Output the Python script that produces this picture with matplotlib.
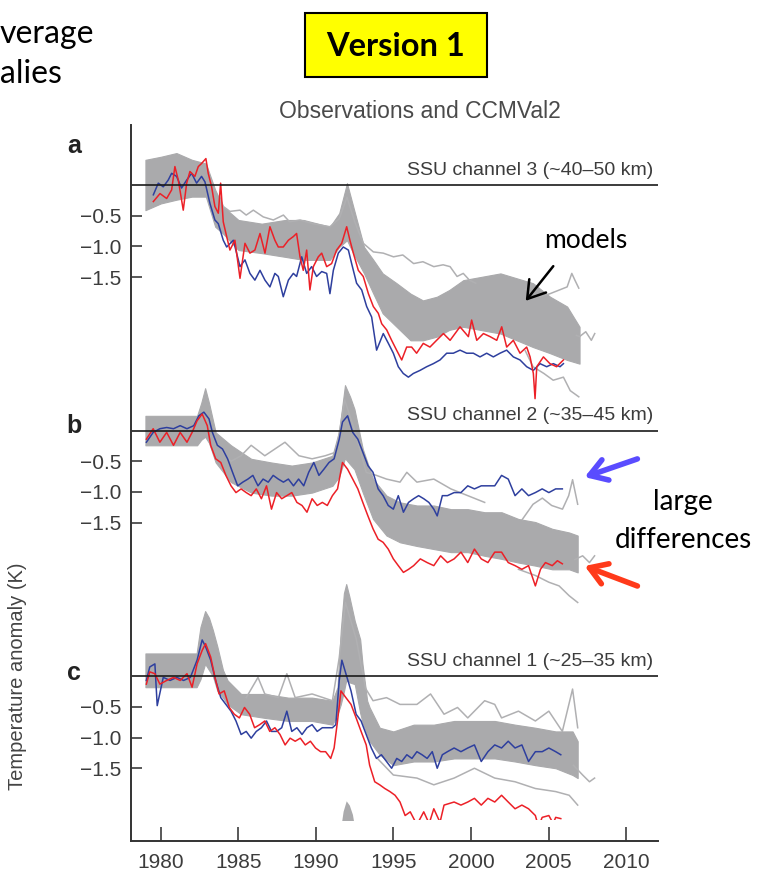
import matplotlib
matplotlib.use("Agg")
from matplotlib import pyplot as plt
from matplotlib.patches import Rectangle, FancyArrowPatch

plt.rcParams['font.family'] = ['Liberation Sans', 'DejaVu Sans']

W, H = 761, 882

# ---------------- data (K anomalies, each panel relative to its own zero) ----------------
panel_offsets = [0, -4, -8]
panel_letters = ['a', 'b', 'c']
panel_titles = ['SSU channel 3 (~40\u201350 km)', 'SSU channel 2 (~35\u201345 km)',
                'SSU channel 1 (~25\u201335 km)']
x_ticks = [1980, 1985, 1990, 1995, 2000, 2005, 2010]
y_tick_vals = [-0.5, -1.0, -1.5]
y_tick_text = ['\u22120.5', '\u22121.0', '\u22121.5']

# panel a
red_a_yr = [1979.51, 1979.94, 1980.37, 1980.69, 1980.90, 1981.12, 1981.44, 1981.66, 1981.87, 1982.19,
            1982.41, 1982.62, 1982.90, 1983.05, 1983.27, 1983.48, 1983.70, 1983.85, 1984.02, 1984.24,
            1984.45, 1984.77, 1985.10, 1985.42, 1985.74, 1986.06, 1986.39, 1986.71, 1987.03, 1987.35,
            1987.57, 1987.89, 1988.22, 1988.54, 1988.75, 1988.97, 1989.18, 1989.40, 1989.61, 1989.83,
            1990.15, 1990.37, 1990.69, 1991.01, 1991.33, 1991.66, 1991.98, 1992.19, 1992.41, 1992.73,
            1993.05, 1993.38, 1993.70, 1994.02, 1994.24, 1994.56, 1994.88, 1995.20, 1995.53, 1995.85,
            1996.17, 1996.49, 1996.92, 1997.35, 1997.78, 1998.22, 1998.65, 1998.97, 1999.29, 1999.83,
            2000.04, 2000.37, 2000.80, 2001.23, 2001.66, 2001.98, 2002.30, 2002.73, 2003.16, 2003.59,
            2003.81, 2004.02, 2004.13, 2004.24, 2004.67, 2005.09, 2005.52, 2005.96]
red_a = [-0.27, -0.14, -0.22, -0.08, 0.30, 0.08, -0.41, 0.03, 0.22, 0.14,
         0.30, 0.35, 0.43, 0.19, -0.03, -0.35, -0.46, 0.03, -0.60, -0.84,
         -1.06, -0.90, -1.52, -0.95, -1.11, -1.06, -0.79, -1.11, -0.68, -0.90,
         -1.01, -1.01, -0.90, -0.84, -0.79, -1.17, -1.39, -1.06, -1.71, -1.33,
         -1.17, -1.11, -1.33, -1.28, -1.06, -0.95, -0.68, -0.90, -1.11, -1.39,
         -1.49, -1.77, -1.98, -2.09, -2.26, -2.36, -2.53, -2.69, -2.85, -2.64,
         -2.64, -2.74, -2.58, -2.64, -2.53, -2.42, -2.53, -2.42, -2.31, -2.47,
         -2.20, -2.53, -2.42, -2.47, -2.53, -2.31, -2.64, -2.53, -2.74, -2.64,
         -2.80, -3.07, -3.48, -2.96, -2.80, -2.91, -2.96, -2.85]
blue_a_yr = [1979.51, 1979.83, 1980.15, 1980.47, 1980.69, 1981.01, 1981.33, 1981.66, 1981.98, 1982.30,
             1982.62, 1982.84, 1983.16, 1983.48, 1983.70, 1984.02, 1984.24, 1984.67, 1984.88, 1985.10,
             1985.42, 1985.74, 1986.06, 1986.39, 1986.71, 1987.03, 1987.35, 1987.57, 1987.89, 1988.22,
             1988.54, 1988.75, 1989.08, 1989.40, 1989.72, 1990.04, 1990.37, 1990.69, 1990.90, 1991.12,
             1991.44, 1991.76, 1992.09, 1992.30, 1992.62, 1992.95, 1993.27, 1993.59, 1993.91, 1994.34,
             1994.67, 1994.99, 1995.31, 1995.63, 1995.96, 1996.28, 1996.71, 1997.14, 1997.57, 1998.00,
             1998.43, 1998.86, 1999.29, 1999.72, 2000.15, 2000.58, 2001.01, 2001.44, 2001.87, 2002.30,
             2002.73, 2003.16, 2003.59, 2004.02, 2004.45, 2004.88, 2005.31, 2005.74, 2005.96]
blue_a = [-0.16, 0.03, -0.03, 0.08, 0.19, 0.14, -0.05, 0.08, 0.19, 0.03,
          0.14, 0.05, -0.30, -0.57, -0.63, -0.90, -1.01, -0.90, -1.11, -1.33,
          -1.22, -1.44, -1.55, -1.39, -1.55, -1.66, -1.44, -1.49, -1.82, -1.55,
          -1.44, -1.49, -1.17, -1.44, -1.33, -1.49, -1.41, -1.44, -1.77, -1.39,
          -1.11, -1.01, -1.06, -1.28, -1.60, -1.71, -1.98, -2.15, -2.69, -2.42,
          -2.58, -2.74, -2.96, -3.07, -3.13, -3.07, -3.02, -2.96, -2.91, -2.85,
          -2.74, -2.74, -2.69, -2.74, -2.74, -2.80, -2.74, -2.80, -2.74, -2.69,
          -2.80, -2.85, -2.96, -3.02, -2.91, -2.96, -2.91, -2.96, -2.91]
band_a_yr = [1979.0, 1980.0, 1981.0, 1982.0, 1982.9, 1983.5, 1984.0, 1985.0, 1986.5, 1988.0,
             1989.2, 1990.9, 1991.5, 1992.0, 1992.4, 1993.1, 1993.7, 1994.3, 1995.2, 1996.1,
             1996.9, 1997.8, 1998.6, 1999.5, 2001.9, 2004.0, 2005.1, 2006.2, 2007.0]
band_a_hi = [0.41, 0.46, 0.52, 0.41, 0.35, -0.08, -0.35, -0.57, -0.63, -0.57,
             -0.57, -0.68, -0.46, 0.03, -0.35, -1.01, -1.22, -1.44, -1.60, -1.77,
             -1.88, -1.82, -1.71, -1.55, -1.44, -1.60, -1.82, -1.98, -2.31]
band_a_lo = [-0.41, -0.30, -0.24, -0.19, -0.19, -0.68, -0.79, -1.06, -1.11, -1.17,
             -1.22, -1.22, -1.01, -0.90, -1.11, -1.44, -1.77, -2.09, -2.31, -2.53,
             -2.53, -2.47, -2.36, -2.31, -2.42, -2.64, -2.74, -2.85, -2.91]
models_a = [
    ([1983.8, 1984.02, 1984.45, 1985.10, 1985.50, 1985.96, 1986.60, 1987.25, 1987.90, 1988.30,
      1988.97, 1989.80, 1990.90, 1991.50, 1992.00, 1992.50, 1993.05, 1993.70, 1994.34, 1995.00,
      1995.60, 1996.30, 1996.90, 1997.60, 1998.20, 1998.65, 1999.10, 1999.50, 1999.90, 2000.3],
     [-0.20, -0.35, -0.43, -0.41, -0.49, -0.41, -0.52, -0.57, -0.49, -0.60,
      -0.57, -0.63, -0.68, -0.55, -0.20, -0.60, -0.95, -1.09, -1.11, -1.17,
      -1.14, -1.28, -1.25, -1.33, -1.30, -1.33, -1.49, -1.44, -1.55, -1.60]),
    ([2003.5, 2004.45, 2005.10, 2005.70, 2006.20, 2006.50, 2006.70, 2006.95],
     [-1.70, -1.82, -1.77, -1.71, -1.66, -1.44, -1.55, -1.68]),
    ([2003.5, 2004.0, 2004.7, 2005.3, 2005.96, 2006.4, 2006.95],
     [-2.70, -2.96, -3.07, -3.18, -3.13, -3.35, -3.45]),
    ([2006.8, 2007.0, 2007.4, 2007.76, 2007.98],
     [-2.45, -2.47, -2.39, -2.53, -2.42]),
]

# panel b
red_b_yr = [1979.06, 1979.50, 1979.93, 1980.37, 1980.81, 1981.24, 1981.68, 1982.01, 1982.33, 1982.66,
            1982.99, 1983.21, 1983.53, 1983.86, 1984.19, 1984.52, 1984.84, 1985.17, 1985.50, 1985.82,
            1986.15, 1986.48, 1986.81, 1987.13, 1987.46, 1987.79, 1988.12, 1988.44, 1988.77, 1989.10,
            1989.42, 1989.75, 1990.08, 1990.41, 1990.73, 1991.06, 1991.39, 1991.71, 1992.04, 1992.37,
            1992.70, 1993.02, 1993.35, 1993.68, 1994.01, 1994.33, 1994.66, 1994.99, 1995.31, 1995.64,
            1995.97, 1996.30, 1996.73, 1997.17, 1997.60, 1998.04, 1998.48, 1998.91, 1999.35, 1999.79,
            2000.22, 2000.66, 2001.09, 2001.53, 2001.97, 2002.40, 2002.84, 2003.28, 2003.71, 2004.15,
            2004.48, 2004.80, 2005.24, 2005.57, 2005.89]
red_b = [-0.14, 0.03, -0.19, -0.03, -0.24, -0.03, -0.19, -0.03, 0.16, 0.27,
         0.08, -0.24, -0.46, -0.52, -0.73, -0.90, -1.01, -0.95, -1.01, -1.06,
         -0.95, -1.11, -0.90, -1.28, -1.01, -1.11, -1.06, -1.01, -1.17, -1.22,
         -1.33, -1.11, -1.22, -1.17, -1.22, -1.06, -0.95, -0.52, -0.63, -0.79,
         -0.95, -1.17, -1.39, -1.60, -1.77, -1.82, -1.93, -2.09, -2.20, -2.31,
         -2.26, -2.20, -2.09, -2.15, -2.20, -2.04, -2.15, -2.09, -1.98, -2.15,
         -1.93, -2.09, -2.15, -1.98, -1.98, -2.15, -2.20, -2.26, -2.20, -2.53,
         -2.26, -2.15, -2.20, -2.12, -2.17]
blue_b_yr = [1979.06, 1979.50, 1979.93, 1980.37, 1980.81, 1981.24, 1981.68, 1982.12, 1982.44, 1982.77,
             1983.10, 1983.32, 1983.64, 1983.97, 1984.30, 1984.62, 1984.95, 1985.28, 1985.61, 1985.93,
             1986.26, 1986.59, 1986.92, 1987.24, 1987.57, 1987.90, 1988.22, 1988.55, 1988.88, 1989.21,
             1989.53, 1989.86, 1990.19, 1990.51, 1990.84, 1991.17, 1991.50, 1991.71, 1992.04, 1992.37,
             1992.70, 1993.02, 1993.35, 1993.68, 1994.01, 1994.33, 1994.66, 1994.99, 1995.31, 1995.64,
             1995.97, 1996.30, 1996.62, 1996.95, 1997.28, 1997.60, 1997.82, 1998.15, 1998.48, 1998.91,
             1999.35, 1999.79, 2000.22, 2000.66, 2001.09, 2001.53, 2001.97, 2002.40, 2002.84, 2003.28,
             2003.71, 2004.15, 2004.59, 2005.02, 2005.46, 2005.89]
blue_b = [-0.19, -0.03, 0.03, 0.05, 0.03, 0.08, 0.03, 0.08, 0.24, 0.30,
          0.19, -0.03, -0.24, -0.30, -0.46, -0.68, -0.90, -0.84, -0.79, -0.73,
          -0.90, -0.79, -0.84, -0.73, -0.79, -0.84, -0.79, -0.90, -0.79, -0.90,
          -0.68, -0.52, -0.73, -0.63, -0.52, -0.46, -0.14, 0.14, 0.24, -0.03,
          -0.14, -0.35, -0.57, -0.68, -0.95, -1.06, -1.22, -1.28, -1.06, -1.33,
          -1.17, -1.11, -1.06, -1.11, -1.17, -1.28, -1.39, -1.06, -1.06, -1.01,
          -1.01, -0.90, -0.95, -0.90, -0.90, -0.90, -0.73, -0.79, -1.06, -0.95,
          -1.06, -1.01, -0.95, -1.01, -0.95, -0.95]
band_b_yr = [1979.0, 1982.33, 1982.6, 1982.85, 1983.1, 1983.53, 1984.52, 1985.82, 1987.13, 1988.44,
             1989.75, 1991.06, 1991.5, 1991.87, 1992.2, 1992.48, 1993.02, 1993.68, 1994.55, 1995.42,
             1996.51, 1997.60, 1998.70, 1999.79, 2000.88, 2001.97, 2003.06, 2004.15, 2005.24, 2006.33,
             2006.88]
band_b_hi = [0.24, 0.24, 0.45, 0.69, 0.45, -0.03, -0.24, -0.46, -0.52, -0.57,
             -0.52, -0.41, 0.00, 0.74, 0.55, 0.35, -0.30, -0.79, -1.06, -1.17,
             -1.22, -1.22, -1.28, -1.28, -1.33, -1.33, -1.44, -1.49, -1.60, -1.66,
             -1.71]
band_b_lo = [-0.24, -0.24, -0.15, -0.10, -0.20, -0.52, -0.84, -1.01, -1.06, -1.06,
             -1.01, -0.90, -0.75, -0.45, -0.55, -0.63, -1.01, -1.44, -1.71, -1.82,
             -1.88, -1.93, -1.98, -1.98, -2.04, -2.09, -2.15, -2.20, -2.26, -2.26,
             -2.31]
models_b = [
    ([1984.0, 1984.52, 1985.17, 1985.82, 1986.70, 1987.35, 1988.00, 1988.90, 1989.75, 1990.60,
      1991.30, 1991.85, 1992.50, 1993.24, 1993.90, 1994.55, 1995.42, 1995.86, 1996.51, 1997.60,
      1998.70, 1999.79, 2000.88],
     [-0.35, -0.50, -0.41, -0.24, -0.41, -0.30, -0.19, -0.41, -0.46, -0.41,
      -0.35, 0.50, 0.00, -0.68, -0.73, -0.79, -0.84, -0.68, -0.84, -0.79,
      -0.95, -1.06, -1.17]),
    ([2003.3, 2004.0, 2004.6, 2005.2, 2005.9, 2006.3, 2006.55, 2006.88],
     [-1.45, -1.20, -1.10, -1.22, -1.28, -1.06, -0.80, -1.20]),
    ([2003.06, 2004.15, 2005.02, 2005.68, 2006.33, 2006.88],
     [-2.26, -2.36, -2.47, -2.53, -2.69, -2.80]),
    ([2006.7, 2007.2, 2007.64, 2007.97],
     [-2.10, -2.04, -2.15, -2.04]),
]

# panel c
red_c_yr = [1979.06, 1979.28, 1979.61, 1979.93, 1980.37, 1980.81, 1981.24, 1981.68, 1982.01, 1982.33,
            1982.66, 1982.88, 1983.21, 1983.53, 1983.75, 1984.08, 1984.41, 1984.73, 1985.06, 1985.39,
            1985.72, 1986.04, 1986.37, 1986.70, 1987.02, 1987.35, 1987.68, 1988.01, 1988.33, 1988.66,
            1988.99, 1989.31, 1989.64, 1989.97, 1990.30, 1990.62, 1990.95, 1991.17, 1991.39, 1991.61,
            1991.93, 1992.26, 1992.59, 1992.91, 1993.24, 1993.46, 1993.79, 1994.11, 1994.44, 1994.77,
            1995.10, 1995.42, 1995.75, 1996.08, 1996.51, 1996.95, 1997.30, 1997.60, 1998.00, 1998.26,
            1998.91, 1999.35, 1999.79, 2000.22, 2000.66, 2001.09, 2001.53, 2001.97, 2002.40, 2002.84,
            2003.28, 2003.71, 2004.15, 2004.35, 2004.59, 2005.02, 2005.30, 2005.46, 2005.79]
red_c = [-0.13, 0.07, 0.04, -0.13, -0.07, -0.02, -0.07, 0.04, -0.18, 0.20,
         0.42, 0.53, 0.31, -0.07, -0.29, -0.24, -0.51, -0.62, -0.68, -0.51,
         -0.62, -0.84, -0.79, -0.73, -0.90, -0.84, -0.95, -1.12, -1.01, -1.06,
         -1.01, -1.12, -1.06, -1.17, -1.23, -1.23, -1.34, -1.17, -0.73, -0.24,
         -0.35, -0.46, -0.68, -0.90, -1.12, -1.45, -1.72, -1.77, -1.83, -1.88,
         -1.94, -2.05, -2.27, -2.21, -2.42, -2.21, -2.40, -2.16, -2.38, -2.10,
         -2.05, -2.10, -2.05, -1.99, -2.10, -1.99, -2.05, -1.94, -2.05, -2.16,
         -2.10, -2.16, -2.27, -2.45, -2.30, -2.27, -2.40, -2.30, -2.32]
blue_c_yr = [1979.06, 1979.28, 1979.61, 1979.76, 1980.15, 1980.59, 1981.03, 1981.46, 1981.90, 1982.33,
             1982.66, 1982.88, 1983.21, 1983.53, 1983.86, 1984.19, 1984.52, 1984.84, 1985.17, 1985.50,
             1985.82, 1986.15, 1986.48, 1986.81, 1987.13, 1987.46, 1987.79, 1988.12, 1988.44, 1988.77,
             1989.10, 1989.42, 1989.75, 1990.08, 1990.41, 1990.73, 1991.06, 1991.28, 1991.50, 1991.67,
             1991.93, 1992.26, 1992.59, 1992.91, 1993.24, 1993.57, 1993.90, 1994.22, 1994.55, 1994.88,
             1995.21, 1995.53, 1995.86, 1996.19, 1996.51, 1996.84, 1997.17, 1997.50, 1997.82, 1998.15,
             1998.48, 1998.91, 1999.35, 1999.79, 2000.22, 2000.66, 2001.09, 2001.53, 2001.97, 2002.40,
             2002.84, 2003.28, 2003.71, 2004.15, 2004.59, 2005.02, 2005.46, 2005.79]
blue_c = [-0.07, 0.15, 0.20, -0.48, -0.02, -0.07, -0.02, -0.07, -0.02, 0.26,
          0.59, 0.48, 0.26, -0.07, -0.35, -0.46, -0.57, -0.73, -0.95, -0.90,
          -1.01, -0.90, -0.84, -0.73, -0.90, -0.90, -0.84, -0.57, -0.90, -0.84,
          -0.95, -0.84, -0.79, -0.90, -0.84, -0.84, -0.84, -0.79, -0.07, 0.26,
          0.04, -0.24, -0.62, -0.73, -0.95, -1.17, -1.34, -1.28, -1.39, -1.50,
          -1.34, -1.39, -1.28, -1.34, -1.23, -1.28, -1.34, -1.23, -1.50, -1.28,
          -1.23, -1.17, -1.23, -1.17, -1.12, -1.39, -1.23, -1.12, -1.17, -1.06,
          -1.17, -1.12, -1.39, -1.23, -1.23, -1.17, -1.23, -1.28]
band_c_yr = [1979.0, 1982.3, 1982.55, 1982.85, 1983.1, 1983.35, 1983.64, 1984.0, 1984.30, 1985.17,
             1986.70, 1988.22, 1989.75, 1991.06, 1991.39, 1991.6, 1991.8, 1991.95, 1992.15, 1992.5,
             1992.85, 1993.0, 1993.3, 1993.46, 1994.11, 1994.99, 1996.30, 1997.60, 1998.91, 2000.22,
             2001.53, 2002.84, 2004.15, 2005.46, 2006.55, 2006.88]
band_c_hi = [0.37, 0.37, 0.80, 1.06, 0.95, 0.75, 0.48, 0.10, -0.07, -0.29,
             -0.29, -0.35, -0.35, -0.40, -0.18, 0.75, 1.35, 1.50, 1.30, 0.90,
             0.60, 0.20, -0.40, -0.51, -0.84, -0.90, -0.79, -0.79, -0.73, -0.73,
             -0.73, -0.79, -0.84, -0.90, -0.90, -1.06]
band_c_lo = [-0.18, -0.18, -0.05, 0.20, 0.10, 0.00, -0.24, -0.35, -0.46, -0.62,
             -0.68, -0.73, -0.73, -0.79, -0.62, -0.46, -0.25, -0.07, -0.10, -0.13,
             -0.60, -0.75, -0.95, -1.06, -1.28, -1.45, -1.39, -1.39, -1.34, -1.34,
             -1.34, -1.39, -1.45, -1.50, -1.61, -1.66]
models_c = [
    ([1985.5, 1986.26, 1986.70, 1987.57, 1988.12, 1988.66, 1989.75, 1991.06, 1991.5, 1991.9,
      1992.6, 1993.2, 1993.68, 1994.55, 1995.42, 1996.51, 1997.39, 1998.26, 1999.13, 1999.79,
      2000.88, 2001.53, 2001.97, 2003.06, 2004.15, 2005.02, 2005.89, 2006.55, 2006.88],
     [-0.35, -0.02, -0.29, -0.35, 0.04, -0.35, -0.29, -0.40, 0.30, 1.20,
      0.60, -0.20, -0.40, -0.35, -0.46, -0.46, -0.29, -0.62, -0.51, -0.68,
      -0.40, -0.46, -0.68, -0.57, -0.73, -0.57, -0.90, -0.21, -0.84]),
    ([1994.0, 1994.99, 1996.51, 1997.60, 1998.91, 2000.22, 2001.53, 2002.84, 2004.15, 2005.46,
      2006.33, 2006.88],
     [-1.35, -1.61, -1.66, -1.77, -1.66, -1.50, -1.66, -1.72, -1.83, -1.88,
      -1.94, -2.10]),
    ([2006.6, 2007.2, 2007.64, 2007.97],
     [-1.45, -1.61, -1.72, -1.66]),
]

# volcanic peak of the hidden panel d (zero at -12), mostly masked
peak_d_yr = [1991.55, 1991.75, 1991.95, 1992.15, 1992.35, 1992.55]
peak_d = [1.45, 1.80, 1.97, 1.90, 1.75, 1.45]

panels = [
    (red_a_yr, red_a, blue_a_yr, blue_a, band_a_yr, band_a_hi, band_a_lo, models_a),
    (red_b_yr, red_b, blue_b_yr, blue_b, band_b_yr, band_b_hi, band_b_lo, models_b),
    (red_c_yr, red_c, blue_c_yr, blue_c, band_c_yr, band_c_hi, band_c_lo, models_c),
]

RED = '#ec2027'
BLUE = '#2e3f9e'
GREY = '#aaaaac'
GREY_LINE = '#b0b0b2'
TXT = '#3c3c3c'


def fx(px):
    return px / W


def fy(py):
    return 1 - py / H


fig = plt.figure(figsize=(W / 100, H / 100), dpi=100)
ax = fig.add_axes([fx(130.7), fy(840.7), (658 - 130.7) / W, (840.7 - 125) / H])
ax.set_xlim(1978.05, 2012.06)
ax.set_ylim(-10.68, 0.977)

# everything below the masked strip is hidden
clip = Rectangle((1970, -10.34), 50, 20, transform=ax.transData)
drawn = []

for (ry, rv, by, bv, gy, ghi, glo, mods), off in zip(panels, panel_offsets):
    drawn.append(ax.fill_between(gy, [v + off for v in ghi], [v + off for v in glo],
                                 color=GREY, lw=0.8, zorder=1))
    for my, mv in mods:
        drawn += ax.plot(my, [v + off for v in mv], color=GREY_LINE, lw=1.1, zorder=1.2)
    drawn += ax.plot(by, [v + off for v in bv], color=BLUE, lw=1.1, zorder=2)
    drawn += ax.plot(ry, [v + off for v in rv], color=RED, lw=1.1, zorder=2.1)
    ax.axhline(off, color='#1a1a1a', lw=1.2, zorder=2.2)

drawn.append(ax.fill_between(peak_d_yr, [v - 12 for v in peak_d], -10.6, color=GREY, lw=0, zorder=1))
for art in drawn:
    art.set_clip_path(clip)

for off, title in zip(panel_offsets, panel_titles):
    ax.text(2011.74, off + 0.17, title, ha='right', va='baseline', fontsize=14, color=TXT)

yt, ytl = [], []
for off in panel_offsets:
    for v, t in zip(y_tick_vals, y_tick_text):
        yt.append(off + v)
        ytl.append(t)
ax.set_yticks(yt)
ax.set_yticklabels(ytl)
ax.set_xticks(x_ticks)
ax.tick_params(axis='y', direction='in', length=8, width=1.2, pad=7, labelsize=15, colors=TXT)
ax.tick_params(axis='x', direction='in', length=10, width=1.2, pad=9, labelsize=15, colors=TXT)
for side in ['top', 'right']:
    ax.spines[side].set_visible(False)
for side in ['left', 'bottom']:
    ax.spines[side].set_color('#333333')
    ax.spines[side].set_linewidth(1.4)

# panel letters and labels
for letter, base in zip(panel_letters, [153, 433, 680]):
    fig.text(fx(74), fy(base), letter, ha='center', va='baseline', fontsize=18,
             weight='bold', color='#222222')
fig.text(fx(419.5), fy(112), 'Observations and CCMVal2', ha='center', va='center',
         fontsize=16.5, color='#4a4a4a')
fig.text(fx(18), fy(676), 'Temperature anomaly (K)', rotation=90, ha='center', va='center',
         fontsize=14.5, color='#444444')

# slide annotations
fig.add_artist(Rectangle((fx(305), fy(76.7)), (487 - 305) / W, 64 / H, transform=fig.transFigure,
                         facecolor='#ffff00', edgecolor='black', lw=1.5))
fig.text(fx(396), fy(46), 'Version 1', ha='center', va='center', fontsize=23.5, weight='bold',
         family='Lato', color='black')
fig.text(fx(0), fy(43), 'verage', ha='left', va='baseline', fontsize=23, family='Lato')
fig.text(fx(0), fy(83), 'alies', ha='left', va='baseline', fontsize=23, family='Lato')
fig.text(fx(585.5), fy(240), 'models', ha='center', va='center', fontsize=19, family='Lato')
fig.text(fx(683), fy(502), 'large', ha='center', va='center', fontsize=20, family='Lato')
fig.text(fx(683), fy(540), 'differences', ha='center', va='center', fontsize=20, family='Lato')

arrows = [((555, 264), (524, 303), 'black', 1.8),
          ((640, 458), (582, 478), '#5a4cff', 4.0),
          ((640, 587), (582, 565), '#ff3a1a', 4.0)]
for (x0, y0), (x1, y1), col, lw in arrows:
    fig.add_artist(FancyArrowPatch((fx(x0), fy(y0)), (fx(x1), fy(y1)), transform=fig.transFigure,
                                   arrowstyle='->,head_length=0.55,head_width=0.35',
                                   mutation_scale=22, color=col, lw=lw))

fig.savefig('out.png', dpi=100)
